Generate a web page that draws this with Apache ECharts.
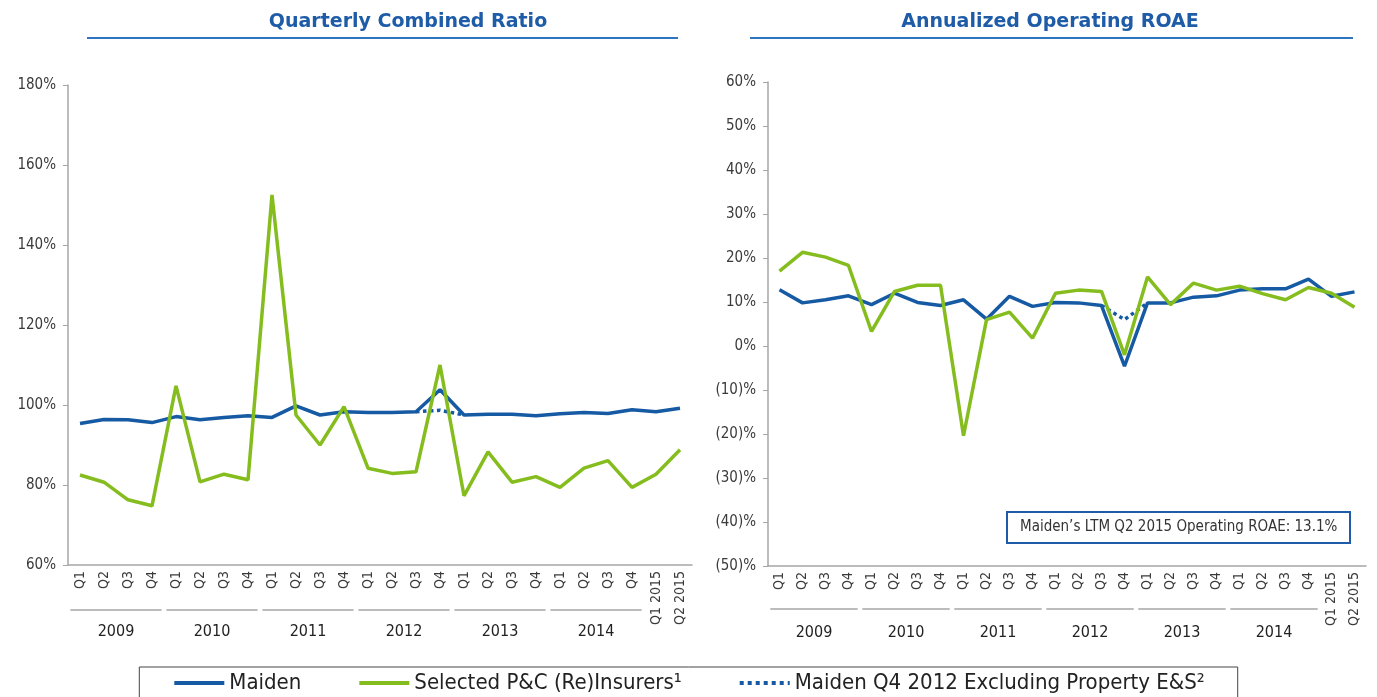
<!DOCTYPE html>
<html lang="en">
  <head>
    <meta charset="UTF-8" />
    <title>Quarterly Combined Ratio / Annualized Operating ROAE</title>
    <style>
      * {
        margin: 0;
        padding: 0;
      }
      #main {
        width: 1377px;
        height: 697px;
        background: #fff;
      }
    </style>
  </head>
  <body>
    <div id="main"></div>
    <script src="https://cdn.jsdelivr.net/npm/echarts@6/dist/echarts.min.js"></script>
    <script>
      // quarter labels (2009 Q1 .. 2015 Q2)
      var quarters = [
        "Q1", "Q2", "Q3", "Q4", "Q1", "Q2", "Q3", "Q4", "Q1", "Q2", "Q3", "Q4",
        "Q1", "Q2", "Q3", "Q4", "Q1", "Q2", "Q3", "Q4", "Q1", "Q2", "Q3", "Q4",
        "Q1 2015", "Q2 2015",
      ];
      var years = ["2009", "2010", "2011", "2012", "2013", "2014"];

      // combined ratio (%)
      var maidenCR = [
        95.4, 96.4, 96.3, 95.6, 97.1, 96.3, 96.9, 97.3, 96.9, 99.8, 97.5, 98.3,
        98.1, 98.1, 98.3, 103.8, 97.5, 97.7, 97.7, 97.3, 97.8, 98.1, 97.9, 98.8,
        98.3, 99.2,
      ];
      var peersCR = [
        82.5, 80.7, 76.3, 74.8, 104.8, 80.8, 82.7, 81.3, 152.5, 97.5, 90.0, 99.6,
        84.2, 82.9, 83.3, 110.0, 77.3, 88.3, 80.7, 82.1, 79.4, 84.2, 86.1, 79.4,
        82.7, 88.8,
      ];
      var maidenExCR = [
        null, null, null, null, null, null, null, null, null, null, null, null,
        null, null, 98.3, 98.7, 97.5, null, null, null, null, null, null, null,
        null, null,
      ];

      // operating ROAE (%)
      var maidenROAE = [
        12.8, 9.8, 10.5, 11.4, 9.4, 12.0, 9.9, 9.2, 10.5, 6.1, 11.3, 9.0,
        9.9, 9.8, 9.2, -4.6, 9.8, 9.8, 11.1, 11.4, 12.7, 13.0, 13.0, 15.2,
        11.3, 12.3,
      ];
      var peersROAE = [
        17.0, 21.3, 20.2, 18.3, 3.3, 12.4, 13.8, 13.8, -20.4, 6.0, 7.7, 1.8,
        12.0, 12.7, 12.4, -2.0, 15.7, 9.4, 14.3, 12.7, 13.6, 11.9, 10.5, 13.3,
        12.0, 8.8,
      ];
      var maidenExROAE = [
        null, null, null, null, null, null, null, null, null, null, null, null,
        null, null, 9.2, 6.0, 9.8, null, null, null, null, null, null, null,
        null, null,
      ];

      var nameMaiden = "Maiden";
      var namePeers = "Selected P&C (Re)Insurers\u00B9";
      var nameEx = "Maiden Q4 2012 Excluding Property E&S\u00B2";

      var font = "'DejaVu Sans Condensed', 'DejaVu Sans', sans-serif";
      var blue = "#155aa3";
      var green = "#86bd1e";
      var axisGray = "#a6a6a6";
      var labelColor = "#3a3a3a";

      var myEcharts = echarts.init(document.getElementById("main"));

      function catAxis(grid) {
        return {
          type: "category",
          gridIndex: grid,
          data: quarters,
          axisLine: { onZero: false, lineStyle: { color: axisGray, width: 1.5 } },
          axisTick: { length: 5, lineStyle: { color: axisGray } },
          axisLabel: {
            interval: 0,
            rotate: 90,
            margin: 6,
            fontSize: 14,
            fontFamily: font,
            color: labelColor,
          },
        };
      }
      // hidden value axis used only to place the year labels under each group
      function yearAxis(grid) {
        return {
          type: "value",
          gridIndex: grid,
          min: -0.5,
          max: 25.5,
          position: "bottom",
          offset: 59,
          axisLine: { show: false, onZero: false },
          axisTick: { show: false },
          splitLine: { show: false },
          axisLabel: {
            customValues: [1.5, 5.5, 9.5, 13.5, 17.5, 21.5],
            formatter: function (v) {
              return years[Math.round((v - 1.5) / 4)];
            },
            margin: 0,
            fontSize: 16,
            fontFamily: font,
            color: "#222",
          },
        };
      }
      function valAxis(grid, min, max, fmt) {
        return {
          type: "value",
          gridIndex: grid,
          min: min,
          max: max,
          interval: 10 * (grid === 0 ? 2 : 1),
          axisLine: { show: true, onZero: false, lineStyle: { color: axisGray, width: 1.5 } },
          axisTick: { show: true, length: 5, lineStyle: { color: axisGray } },
          splitLine: { show: false },
          axisLabel: {
            formatter: fmt,
            margin: 12,
            fontSize: 15,
            fontFamily: font,
            color: labelColor,
          },
        };
      }
      function line(name, data, xi, yi, color, type, z) {
        return {
          name: name,
          type: "line",
          xAxisIndex: xi,
          yAxisIndex: yi,
          data: data,
          symbol: "none",
          z: z,
          lineStyle: { color: color, width: 3.5, type: type },
          itemStyle: { color: color },
        };
      }

      var titleFont = { fontFamily: "'DejaVu Sans', sans-serif", fontSize: 19, fontWeight: "bold", color: "#1f5ca8" };
      var option = {
        animation: false,
        title: [
          { text: "Quarterly Combined Ratio", left: 403, top: 8, textAlign: "center", textStyle: titleFont },
          { text: "Annualized Operating ROAE", left: 1045, top: 8, textAlign: "center", textStyle: titleFont },
          {
            text: "Maiden\u2019s LTM Q2 2015 Operating ROAE: 13.1%",
            left: 1007,
            top: 512,
            padding: [8, 13, 8, 13],
            borderColor: "#1f5ca8",
            borderWidth: 2,
            textStyle: { fontFamily: font, fontSize: 15, fontWeight: "normal", color: "#333" },
          },
        ],
        legend: {
          data: [nameMaiden, namePeers, nameEx],
          left: "center",
          top: 667,
          padding: [5, 33, 12, 33],
          itemGap: 56,
          itemWidth: 50,
          itemHeight: 14,
          itemStyle: { opacity: 0 },
          lineStyle: { width: 4 },
          borderColor: "#444",
          borderWidth: 1,
          textStyle: { fontFamily: font, fontSize: 22, color: "#222" },
        },
        grid: [
          { left: 68, right: 685, top: 85, bottom: 132, outerBoundsMode: "none", containLabel: false },
          { left: 768, right: 11, top: 82, bottom: 131, outerBoundsMode: "none", containLabel: false },
        ],
        xAxis: [catAxis(0), catAxis(1), yearAxis(0), yearAxis(1)],
        yAxis: [
          valAxis(0, 60, 180, function (v) {
            return v + "%";
          }),
          valAxis(1, -50, 60, function (v) {
            return v < 0 ? "(" + -v + ")%" : v + "%";
          }),
        ],
        series: [
          line(nameMaiden, maidenCR, 0, 0, blue, "solid", 2),
          line(namePeers, peersCR, 0, 0, green, "solid", 3),
          line(nameEx, maidenExCR, 0, 0, blue, "dotted", 1),
          line(nameMaiden, maidenROAE, 1, 1, blue, "solid", 2),
          line(namePeers, peersROAE, 1, 1, green, "solid", 3),
          line(nameEx, maidenExROAE, 1, 1, blue, "dotted", 1),
        ],
        graphic: [
          { type: "line", shape: { x1: 87, y1: 38, x2: 678, y2: 38 }, style: { stroke: "#2e74bf", lineWidth: 2 } },
          { type: "line", shape: { x1: 750, y1: 38, x2: 1353, y2: 38 }, style: { stroke: "#2e74bf", lineWidth: 2 } },
        ],
      };
      myEcharts.setOption(option);

      // grey underline above each year label, spanning its four quarters
      var marks = [];
      [2, 3].forEach(function (axisIdx, k) {
        for (var g = 0; g < years.length; g++) {
          var xa = myEcharts.convertToPixel({ xAxisIndex: axisIdx }, 4 * g - 0.4);
          var xb = myEcharts.convertToPixel({ xAxisIndex: axisIdx }, 4 * g + 3.4);
          var y = k === 0 ? 610 : 609;
          marks.push({
            type: "line",
            shape: { x1: xa, y1: y, x2: xb, y2: y },
            style: { stroke: "#a6a6a6", lineWidth: 1.5 },
          });
        }
      });
      myEcharts.setOption({ graphic: option.graphic.concat(marks) });
    </script>
  </body>
</html>
